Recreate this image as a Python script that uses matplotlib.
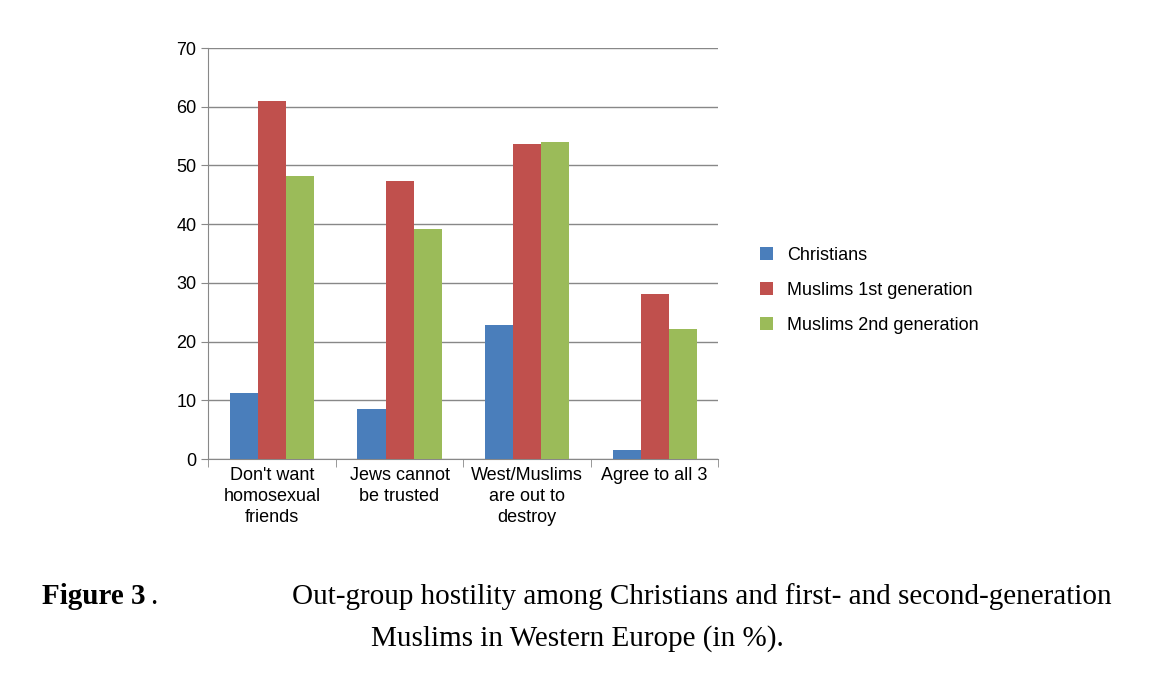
import matplotlib.pyplot as plt
import numpy as np

categories = ["Don't want\nhomosexual\nfriends", "Jews cannot\nbe trusted",
              "West/Muslims\nare out to\ndestroy", "Agree to all 3"]
series = ["Christians", "Muslims 1st generation", "Muslims 2nd generation"]
christians = [11.2, 8.5, 22.8, 1.6]
muslims_1st = [60.9, 47.3, 53.6, 28.1]
muslims_2nd = [48.2, 39.2, 54.0, 22.2]
colors = ['#4a7ebb', '#c0504d', '#9bbb59']

plt.rcParams['font.family'] = ['Liberation Sans', 'DejaVu Sans']

fig = plt.figure(figsize=(11.7, 6.77), dpi=100)
ax = fig.add_axes([0.178, 0.322, 0.436, 0.607])

x = np.arange(len(categories))
w = 0.22
for i, (vals, name) in enumerate(zip([christians, muslims_1st, muslims_2nd], series)):
    ax.bar(x + (i - 1) * w, vals, w, color=colors[i], label=name, zorder=3)

ax.set_xlim(-0.5, len(categories) - 0.5)
ax.set_ylim(0, 70)
ax.set_yticks(range(0, 71, 10))
ax.yaxis.grid(True, color='#888888', linewidth=1, zorder=0)
for s in ['top', 'right']:
    ax.spines[s].set_visible(False)
ax.spines['left'].set_color('#888888')
ax.spines['bottom'].set_color('#888888')
ax.tick_params(axis='y', labelsize=13, color='#888888', length=5)
ax.set_xticks(x)
ax.set_xticklabels(categories, fontsize=13, linespacing=1.3)
ax.tick_params(axis='x', length=0, pad=6)
ax.set_xticks(np.arange(-0.5, len(categories), 1), minor=True)
ax.tick_params(axis='x', which='minor', length=6, color='#888888')

ax.legend(loc='center left', bbox_to_anchor=(1.05, 0.41), frameon=False,
          fontsize=13, handlelength=0.7, handleheight=0.7, labelspacing=1.0)

serif = 'Liberation Serif'
fig.text(42 / 1170, 1 - 604 / 677, "Figure 3", fontsize=21, family=serif, weight='bold')
fig.text(150 / 1170, 1 - 604 / 677, ".", fontsize=21, family=serif)
fig.text(1112 / 1170, 1 - 604 / 677,
         "Out-group hostility among Christians and first- and second-generation",
         ha='right', fontsize=21, family=serif)
fig.text(577 / 1170, 1 - 646 / 677, "Muslims in Western Europe (in %).",
         ha='center', fontsize=21, family=serif)

fig.savefig('out.png', dpi=100)
